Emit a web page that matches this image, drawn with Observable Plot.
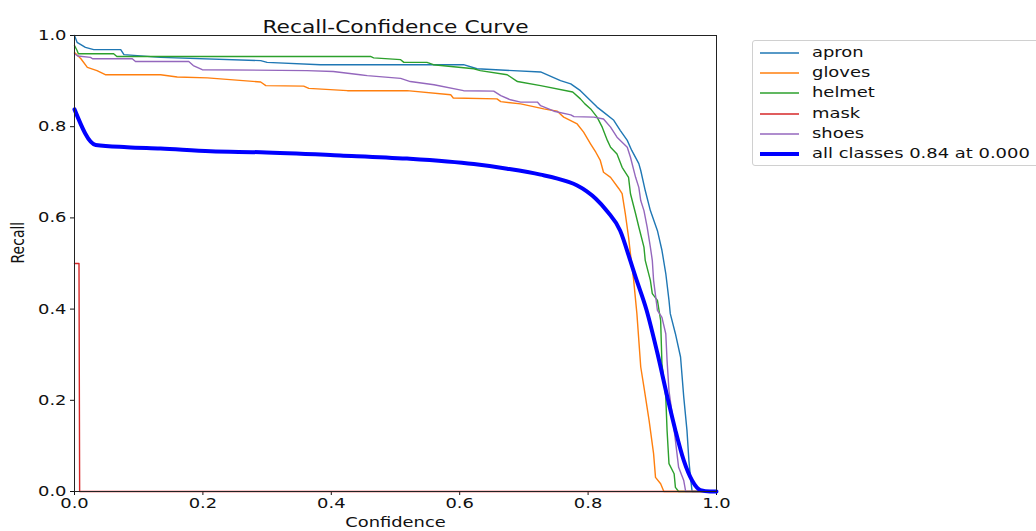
<!DOCTYPE html>
<html><head><meta charset="utf-8">
<script src="https://cdn.jsdelivr.net/npm/d3@7"></script>
<script src="https://cdn.jsdelivr.net/npm/@observablehq/plot@0.6"></script>
<style>
html,body{margin:0;padding:0;background:#fff;}
#wrap{position:relative;width:1036px;height:531px;overflow:hidden;font-family:"DejaVu Sans",sans-serif;}
#legend{position:absolute;left:752px;top:40px;width:300px;height:126px;border:1px solid #d0d0d0;border-radius:3px;box-sizing:border-box;background:#fff;}
.sw{position:absolute;left:7px;width:39px;}
.lab{position:absolute;left:59px;font-size:14px;line-height:16px;color:#111;transform:scaleX(1.28);transform-origin:left center;white-space:nowrap;}
</style>
</head><body>
<div id="wrap"><div id="legend"></div></div>
<script>
const titleText = "Recall-Confidence Curve";
const xLabel = "Confidence";
const yLabel = "Recall";
const xTicks = [0, 0.2, 0.4, 0.6, 0.8, 1.0];
const yTicks = [0, 0.2, 0.4, 0.6, 0.8, 1.0];
const classes = ["apron", "gloves", "helmet", "mask", "shoes"];
const colors = ["#1f77b4", "#ff7f0e", "#2ca02c", "#d62728", "#9467bd"];
const allLabel = "all classes 0.84 at 0.000";
const allColor = "#0000ff";

// [confidence, recall]
const apron = [[0,1.0],[0.004,0.985],[0.017,0.974],[0.03,0.969],[0.072,0.969],[0.077,0.958],[0.134,0.952],[0.29,0.945],[0.30,0.941],[0.383,0.936],[0.606,0.936],[0.627,0.927],[0.726,0.92],[0.757,0.901],[0.773,0.894],[0.788,0.879],[0.804,0.857],[0.814,0.843],[0.824,0.832],[0.84,0.814],[0.85,0.792],[0.861,0.77],[0.868,0.748],[0.879,0.719],[0.882,0.704],[0.889,0.66],[0.897,0.616],[0.908,0.572],[0.915,0.529],[0.921,0.478],[0.926,0.419],[0.928,0.39],[0.936,0.346],[0.944,0.295],[0.949,0.207],[0.954,0.134],[0.957,0.068],[0.96,0.024],[0.962,0.0],[1.0,0.0]];
const gloves = [[0,0.963],[0.01,0.949],[0.02,0.93],[0.035,0.923],[0.048,0.914],[0.134,0.914],[0.16,0.909],[0.207,0.907],[0.29,0.898],[0.298,0.89],[0.357,0.889],[0.365,0.884],[0.425,0.879],[0.518,0.879],[0.586,0.87],[0.59,0.863],[0.658,0.861],[0.664,0.855],[0.695,0.85],[0.731,0.839],[0.752,0.834],[0.762,0.821],[0.783,0.806],[0.793,0.788],[0.804,0.762],[0.812,0.744],[0.819,0.726],[0.824,0.70],[0.835,0.689],[0.848,0.664],[0.853,0.653],[0.858,0.609],[0.863,0.558],[0.866,0.521],[0.871,0.463],[0.876,0.39],[0.882,0.273],[0.887,0.229],[0.895,0.156],[0.902,0.083],[0.905,0.031],[0.913,0.017],[0.918,0.0],[1.0,0.0]];
const helmet = [[0,0.978],[0.004,0.967],[0.006,0.96],[0.061,0.96],[0.066,0.954],[0.461,0.954],[0.466,0.951],[0.508,0.947],[0.513,0.941],[0.549,0.941],[0.559,0.936],[0.622,0.927],[0.632,0.923],[0.674,0.914],[0.69,0.899],[0.726,0.89],[0.776,0.876],[0.788,0.861],[0.795,0.85],[0.804,0.839],[0.814,0.821],[0.822,0.799],[0.83,0.77],[0.835,0.755],[0.845,0.74],[0.853,0.711],[0.863,0.689],[0.866,0.653],[0.874,0.609],[0.879,0.58],[0.887,0.536],[0.889,0.507],[0.897,0.463],[0.9,0.434],[0.908,0.419],[0.913,0.375],[0.915,0.28],[0.921,0.207],[0.923,0.134],[0.926,0.061],[0.934,0.039],[0.936,0.009],[0.941,0.0],[1.0,0.0]];
const mask = [[0,0.5],[0.007,0.5],[0.008,0.0],[1.0,0.0]];
const shoes = [[0,0.96],[0.005,0.955],[0.025,0.952],[0.028,0.949],[0.09,0.949],[0.095,0.943],[0.178,0.943],[0.185,0.934],[0.199,0.925],[0.362,0.923],[0.403,0.921],[0.445,0.914],[0.456,0.912],[0.508,0.906],[0.523,0.899],[0.56,0.892],[0.606,0.879],[0.653,0.878],[0.664,0.868],[0.679,0.859],[0.695,0.854],[0.721,0.854],[0.726,0.846],[0.747,0.834],[0.773,0.826],[0.778,0.822],[0.809,0.821],[0.824,0.817],[0.835,0.799],[0.845,0.777],[0.861,0.755],[0.866,0.733],[0.874,0.689],[0.879,0.667],[0.882,0.638],[0.887,0.616],[0.892,0.58],[0.897,0.536],[0.900,0.507],[0.902,0.463],[0.908,0.397],[0.915,0.382],[0.921,0.346],[0.923,0.287],[0.926,0.221],[0.931,0.17],[0.936,0.112],[0.941,0.053],[0.949,0.024],[0.952,0.0],[1.0,0.0]];
const allClasses = [[0,0.838],[0.033,0.76],[0.082,0.755],[0.134,0.752],[0.212,0.746],[0.29,0.744],[0.414,0.737],[0.518,0.73],[0.622,0.718],[0.674,0.708],[0.726,0.695],[0.767,0.68],[0.783,0.671],[0.798,0.658],[0.812,0.642],[0.83,0.614],[0.85,0.572],[0.866,0.505],[0.874,0.47],[0.891,0.398],[0.908,0.303],[0.924,0.204],[0.936,0.134],[0.949,0.068],[0.962,0.024],[0.975,0.003],[0.99,0],[1.0,0]];

const seriesData = [apron, gloves, helmet, mask, shoes];
const rows = [];
seriesData.forEach((s, i) => s.forEach(([c, r]) => rows.push({cls: classes[i], conf: c, recall: r})));
const allRows = allClasses.map(([c, r]) => ({conf: c, recall: r}));

const fmt = d => d.toFixed(1);
const chart = Plot.plot({
  width: 1036, height: 531,
  marginLeft: 74, marginRight: 320, marginTop: 35, marginBottom: 40,
  style: {fontFamily: "DejaVu Sans", fontSize: "14px", color: "#111", background: "transparent", overflow: "visible"},
  x: {domain: [0, 1], ticks: xTicks, tickFormat: fmt, tickSize: 4, tickPadding: 3, label: null},
  y: {domain: [0, 1], ticks: yTicks, tickFormat: fmt, tickSize: 4, tickPadding: 4, label: null},
  color: {domain: classes, range: colors},
  marks: [
    Plot.line(rows, {x: "conf", y: "recall", z: "cls", stroke: "cls", strokeWidth: 1.4}),
    Plot.line(allRows, {x: "conf", y: "recall", stroke: allColor, strokeWidth: 4, curve: "monotone-x"}),
    Plot.frame({stroke: "#222", strokeWidth: 1}),
    Plot.text([titleText], {frameAnchor: "top", dy: -15, fontSize: 17, fill: "#111"}),
    Plot.text([xLabel], {frameAnchor: "bottom", dy: 35, fontSize: 14, fill: "#111"}),
    Plot.text([yLabel], {frameAnchor: "left", dx: -56, rotate: -90, fontSize: 14, fill: "#111"})
  ]
});
chart.style.position = "absolute";
chart.style.left = "0px";
chart.style.top = "0px";
const wrap = document.getElementById("wrap");
wrap.insertBefore(chart, wrap.firstChild);

// horizontal stretch of text, as in the reference picture
const SX = 1.28;
chart.querySelectorAll("text").forEach(t => {
  let tr = t.getAttribute("transform");
  if (!tr) {
    const x = t.getAttribute("x") || 0, y = t.getAttribute("y") || 0;
    t.removeAttribute("x"); t.removeAttribute("y");
    tr = `translate(${x},${y})`;
  }
  if (tr.includes("rotate")) t.setAttribute("transform", tr + ` scale(1,${SX})`);
  else t.setAttribute("transform", tr + ` scale(${SX},1)`);
});

// legend
const legend = document.getElementById("legend");
const items = classes.map((c, i) => ({label: c, color: colors[i], w: 2}));
items.push({label: allLabel, color: allColor, w: 4});
items.forEach((it, i) => {
  const cy = 12 + i * 20.2;
  const sw = document.createElement("div");
  sw.className = "sw";
  sw.style.top = (cy - it.w / 2) + "px";
  sw.style.height = it.w + "px";
  sw.style.background = it.color;
  sw.style.opacity = it.w === 2 ? 0.75 : 1;
  legend.appendChild(sw);
  const lab = document.createElement("div");
  lab.className = "lab";
  lab.style.top = (cy - 9) + "px";
  lab.textContent = it.label;
  legend.appendChild(lab);
});
</script>
</body></html>
